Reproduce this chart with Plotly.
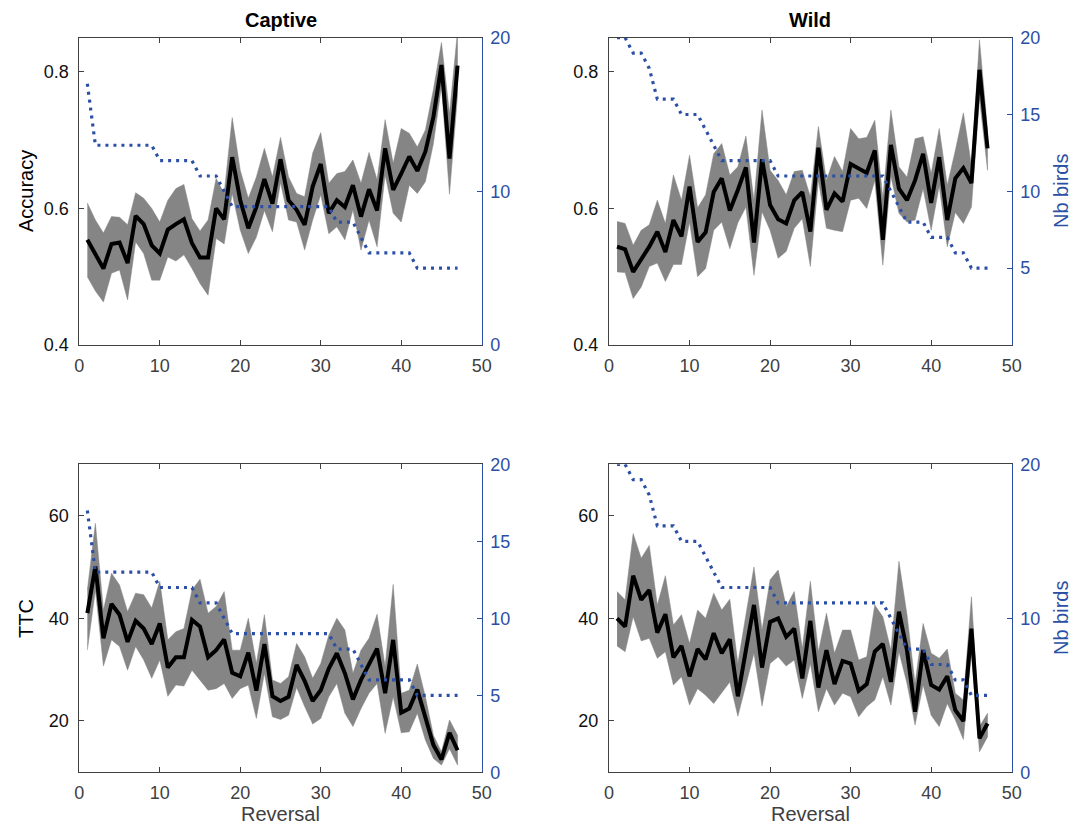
import plotly.graph_objects as go

reversal = list(range(1, 48))

cap_acc_mean = [0.554, 0.534, 0.512, 0.548, 0.550, 0.520, 0.589, 0.577, 0.546, 0.534,
                0.569, 0.577, 0.584, 0.549, 0.528, 0.528, 0.600, 0.584, 0.675, 0.612,
                0.571, 0.602, 0.643, 0.607, 0.672, 0.612, 0.598, 0.576, 0.632, 0.665,
                0.593, 0.612, 0.602, 0.634, 0.588, 0.628, 0.597, 0.688, 0.627, 0.651,
                0.676, 0.655, 0.683, 0.734, 0.810, 0.673, 0.809]
cap_acc_hi = [0.608, 0.583, 0.564, 0.588, 0.587, 0.576, 0.623, 0.615, 0.600, 0.580,
              0.612, 0.629, 0.635, 0.585, 0.567, 0.583, 0.644, 0.622, 0.733, 0.656,
              0.615, 0.646, 0.688, 0.646, 0.704, 0.646, 0.622, 0.617, 0.681, 0.711,
              0.637, 0.651, 0.654, 0.671, 0.637, 0.682, 0.642, 0.730, 0.666, 0.717,
              0.710, 0.690, 0.715, 0.774, 0.843, 0.739, 0.860]
cap_acc_lo = [0.500, 0.479, 0.463, 0.505, 0.510, 0.466, 0.551, 0.534, 0.495, 0.495,
              0.529, 0.523, 0.532, 0.512, 0.490, 0.473, 0.556, 0.548, 0.622, 0.568,
              0.534, 0.558, 0.597, 0.566, 0.638, 0.583, 0.580, 0.539, 0.583, 0.620,
              0.563, 0.573, 0.554, 0.598, 0.539, 0.583, 0.544, 0.649, 0.593, 0.580,
              0.634, 0.622, 0.639, 0.695, 0.779, 0.621, 0.766]

wild_acc_mean = [0.544, 0.540, 0.507, 0.525, 0.544, 0.566, 0.536, 0.583, 0.559, 0.632,
                 0.551, 0.565, 0.624, 0.644, 0.597, 0.627, 0.660, 0.550, 0.672, 0.605,
                 0.584, 0.578, 0.612, 0.624, 0.566, 0.689, 0.598, 0.622, 0.610, 0.665,
                 0.659, 0.652, 0.685, 0.554, 0.693, 0.629, 0.612, 0.641, 0.680, 0.608,
                 0.675, 0.583, 0.644, 0.659, 0.637, 0.803, 0.688]
wild_acc_hi = [0.581, 0.578, 0.546, 0.568, 0.576, 0.612, 0.578, 0.649, 0.612, 0.678,
               0.601, 0.620, 0.680, 0.695, 0.649, 0.661, 0.706, 0.612, 0.744, 0.656,
               0.641, 0.620, 0.654, 0.656, 0.617, 0.720, 0.641, 0.676, 0.654, 0.717,
               0.702, 0.704, 0.729, 0.615, 0.744, 0.661, 0.646, 0.702, 0.705, 0.651,
               0.717, 0.634, 0.685, 0.740, 0.663, 0.847, 0.715]
wild_acc_lo = [0.507, 0.506, 0.468, 0.485, 0.515, 0.520, 0.493, 0.518, 0.518, 0.580,
               0.500, 0.512, 0.568, 0.580, 0.541, 0.579, 0.602, 0.502, 0.595, 0.568,
               0.527, 0.537, 0.571, 0.585, 0.515, 0.641, 0.571, 0.568, 0.566, 0.612,
               0.615, 0.600, 0.641, 0.517, 0.647, 0.593, 0.580, 0.583, 0.629, 0.568,
               0.633, 0.544, 0.594, 0.578, 0.602, 0.761, 0.656]

cap_ttc_mean = [41.0, 50.1, 36.1, 42.8, 40.7, 35.4, 39.5, 38.0, 35.0, 39.0,
                30.4, 32.4, 32.4, 39.7, 38.4, 32.4, 33.8, 35.9, 29.4, 28.7,
                33.3, 25.9, 35.0, 24.8, 23.9, 24.7, 30.9, 27.8, 23.9, 26.0,
                30.2, 33.2, 29.3, 24.2, 28.0, 31.2, 34.1, 25.4, 35.8, 21.6,
                22.4, 26.1, 20.5, 15.3, 12.5, 17.7, 14.3]
cap_ttc_hi = [45.5, 58.5, 41.6, 48.8, 46.5, 41.3, 44.9, 44.6, 42.0, 47.2,
              35.8, 37.4, 38.0, 45.5, 47.6, 41.0, 42.3, 45.2, 33.8, 33.8,
              40.0, 31.2, 40.7, 28.0, 27.3, 28.6, 35.1, 32.5, 28.3, 31.2,
              36.7, 40.0, 37.7, 29.3, 33.8, 36.1, 40.8, 30.6, 46.6, 25.4,
              26.0, 31.1, 24.7, 17.2, 14.0, 20.2, 17.2]
cap_ttc_lo = [33.8, 45.5, 30.7, 35.8, 34.5, 29.9, 34.5, 31.9, 28.3, 31.9,
              24.8, 27.0, 26.8, 29.9, 28.0, 26.0, 26.3, 27.3, 24.4, 26.3,
              27.0, 20.5, 29.3, 20.8, 20.3, 21.1, 26.5, 22.8, 19.4, 20.5,
              24.7, 27.3, 21.5, 18.9, 22.4, 25.4, 27.3, 17.6, 24.7, 17.7,
              17.9, 21.5, 16.3, 12.7, 11.4, 14.6, 11.4]

wild_ttc_mean = [40.0, 38.4, 48.3, 43.6, 45.5, 37.2, 40.8, 32.4, 34.6, 28.7,
                 34.0, 32.0, 37.1, 33.2, 35.9, 24.8, 33.8, 42.6, 30.4, 39.3,
                 40.0, 36.4, 38.0, 28.3, 39.5, 26.5, 33.8, 27.2, 31.7, 31.2,
                 25.9, 27.2, 33.5, 35.0, 27.6, 41.3, 33.8, 21.8, 33.8, 27.0,
                 26.1, 28.7, 22.1, 20.0, 38.0, 16.6, 19.5]
wild_ttc_hi = [45.2, 43.6, 56.5, 51.7, 54.2, 42.6, 48.3, 38.7, 40.7, 35.1,
               41.6, 40.0, 44.9, 41.6, 43.7, 31.2, 40.7, 50.0, 37.7, 47.5,
               49.4, 42.3, 45.2, 34.1, 47.2, 33.5, 41.0, 33.2, 37.7, 37.7,
               31.9, 32.5, 42.6, 40.3, 33.8, 51.1, 40.7, 27.3, 39.0, 33.2,
               32.2, 34.0, 25.4, 24.1, 44.2, 18.9, 21.5]
wild_ttc_lo = [34.6, 33.5, 40.3, 35.6, 36.1, 32.2, 33.5, 27.0, 28.6, 23.1,
               26.3, 25.0, 23.4, 25.4, 27.6, 20.9, 27.0, 33.2, 22.9, 31.2,
               32.5, 30.7, 31.9, 24.4, 31.2, 21.8, 26.3, 23.1, 25.4, 24.7,
               20.8, 22.8, 24.1, 28.6, 23.1, 33.5, 27.3, 19.2, 27.0, 21.1,
               18.9, 23.4, 20.2, 16.4, 33.2, 14.0, 16.9]

cap_birds = [17] + [13] * 8 + [12] * 5 + [11] * 3 + [10] + [9] * 13 + [8] * 3 + [7] + [6] * 6 + [5] * 6
wild_birds = [20, 20, 19, 19, 18, 16, 16, 16, 15, 15, 15, 14, 13] + [12] * 7 + [11] * 14 + \
             [10, 9, 8, 8, 8, 7, 7, 7, 6, 6, 5, 5, 5]

col_titles = ["Captive", "Wild"]
row_titles = ["Accuracy", "TTC"]
x_ticks = [0, 10, 20, 30, 40, 50]
acc_ticks = [0.4, 0.6, 0.8]
ttc_ticks = [20, 40, 60]
birds_ticks = [[0, 10, 20], [5, 10, 15, 20], [0, 5, 10, 15, 20], [0, 10, 20]]

BLUE = "#2C4FA6"
BAND = "#858585"
AX = "#404040"
FONT = "Liberation Sans"

# page has an 8px body margin: figure occupies window pixels 8..1084, 8..828
OFF = 8
W, H = 1084 - OFF, 828 - OFF


def px(x):
    return (x - OFF) / W


def py(y):
    return 1 - (y - OFF) / H


xdom = [[px(79.3), px(481.7)], [px(609.0), px(1011.7)]]
ydom = [[py(345.0), py(37.7)], [py(772.3), py(464.3)]]

panels = [
    (cap_acc_mean, cap_acc_hi, cap_acc_lo, cap_birds, 0, 0),
    (wild_acc_mean, wild_acc_hi, wild_acc_lo, wild_birds, 0, 1),
    (cap_ttc_mean, cap_ttc_hi, cap_ttc_lo, cap_birds, 1, 0),
    (wild_ttc_mean, wild_ttc_hi, wild_ttc_lo, wild_birds, 1, 1),
]

fig = go.Figure()
layout = {}
for i, (mean, hi, lo, birds, r, c) in enumerate(panels):
    xn = i + 1
    yl = 2 * i + 1
    yr = 2 * i + 2
    xs = "x" if xn == 1 else f"x{xn}"
    yls = "y" if yl == 1 else f"y{yl}"
    yrs = f"y{yr}"
    fig.add_trace(go.Scatter(x=reversal + reversal[::-1], y=hi + lo[::-1], fill="toself",
                             fillcolor=BAND, line=dict(color=BAND, width=0.5), mode="lines",
                             xaxis=xs, yaxis=yls, showlegend=False, hoverinfo="skip"))
    fig.add_trace(go.Scatter(x=reversal, y=mean, mode="lines", line=dict(color="black", width=4),
                             xaxis=xs, yaxis=yls, showlegend=False))
    fig.add_trace(go.Scatter(x=reversal, y=birds, mode="lines",
                             line=dict(color=BLUE, width=3.2, dash="3px,5px"),
                             xaxis=xs, yaxis=yrs, showlegend=False))
    xkey = "xaxis" if xn == 1 else f"xaxis{xn}"
    layout[xkey] = dict(domain=xdom[c], anchor=yls, range=[0, 50], tickvals=x_ticks,
                        ticks="inside", ticklen=5, tickcolor=AX, showline=True, linecolor=AX,
                        linewidth=1, mirror="ticks", showgrid=False, zeroline=False,
                        automargin=False,
                        tickfont=dict(family=FONT, size=18, color=AX), ticklabelstandoff=4)
    ylkey = "yaxis" if yl == 1 else f"yaxis{yl}"
    if r == 0:
        yrange, yticks, fmt = [0.4, 0.85], acc_ticks, ".1f"
    else:
        yrange, yticks, fmt = [10, 70], ttc_ticks, "d"
    layout[ylkey] = dict(domain=ydom[r], anchor=xs, range=yrange, tickvals=yticks, tickformat=fmt,
                         ticks="inside", ticklen=5, tickcolor=AX, showline=True, linecolor=AX,
                         linewidth=1, showgrid=False, zeroline=False, automargin=False,
                         tickfont=dict(family=FONT, size=18, color="#111111"), ticklabelstandoff=6)
    layout[f"yaxis{yr}"] = dict(overlaying=yls, anchor=xs, side="right", range=[0, 20],
                                tickvals=birds_ticks[i], ticks="inside", ticklen=5, tickcolor=BLUE,
                                showline=True, linecolor=BLUE, linewidth=1, showgrid=False,
                                zeroline=False, automargin=False,
                                tickfont=dict(family=FONT, size=18, color=BLUE),
                                ticklabelstandoff=4)

ann = []
for c, t in enumerate(col_titles):
    xc = (xdom[c][0] + xdom[c][1]) / 2
    ann.append(dict(text=f"<b>{t}</b>", x=xc, y=py(20), xref="paper", yref="paper", showarrow=False,
                    font=dict(family=FONT, size=20, color="black"), xanchor="center", yanchor="middle"))
    ann.append(dict(text="Reversal", x=xc, y=py(814), xref="paper", yref="paper", showarrow=False,
                    font=dict(family=FONT, size=20, color=AX), xanchor="center", yanchor="middle"))
ann.append(dict(text=row_titles[0], x=px(26), y=py(191), xref="paper", yref="paper",
                showarrow=False, textangle=-90, font=dict(family=FONT, size=20, color="black"),
                xanchor="center", yanchor="middle"))
ann.append(dict(text=row_titles[1], x=px(26), y=py(619), xref="paper", yref="paper",
                showarrow=False, textangle=-90, font=dict(family=FONT, size=20, color="black"),
                xanchor="center", yanchor="middle"))
ann.append(dict(text="Nb birds", x=px(1061), y=py(191), xref="paper", yref="paper",
                showarrow=False, textangle=-90, font=dict(family=FONT, size=20, color=BLUE),
                xanchor="center", yanchor="middle"))
ann.append(dict(text="Nb birds", x=px(1061), y=py(618), xref="paper", yref="paper",
                showarrow=False, textangle=-90, font=dict(family=FONT, size=20, color=BLUE),
                xanchor="center", yanchor="middle"))

fig.update_layout(width=W, height=H, margin=dict(l=0, r=0, t=0, b=0), paper_bgcolor="white",
                  plot_bgcolor="white", annotations=ann, **layout)
fig.write_html("out.html")
